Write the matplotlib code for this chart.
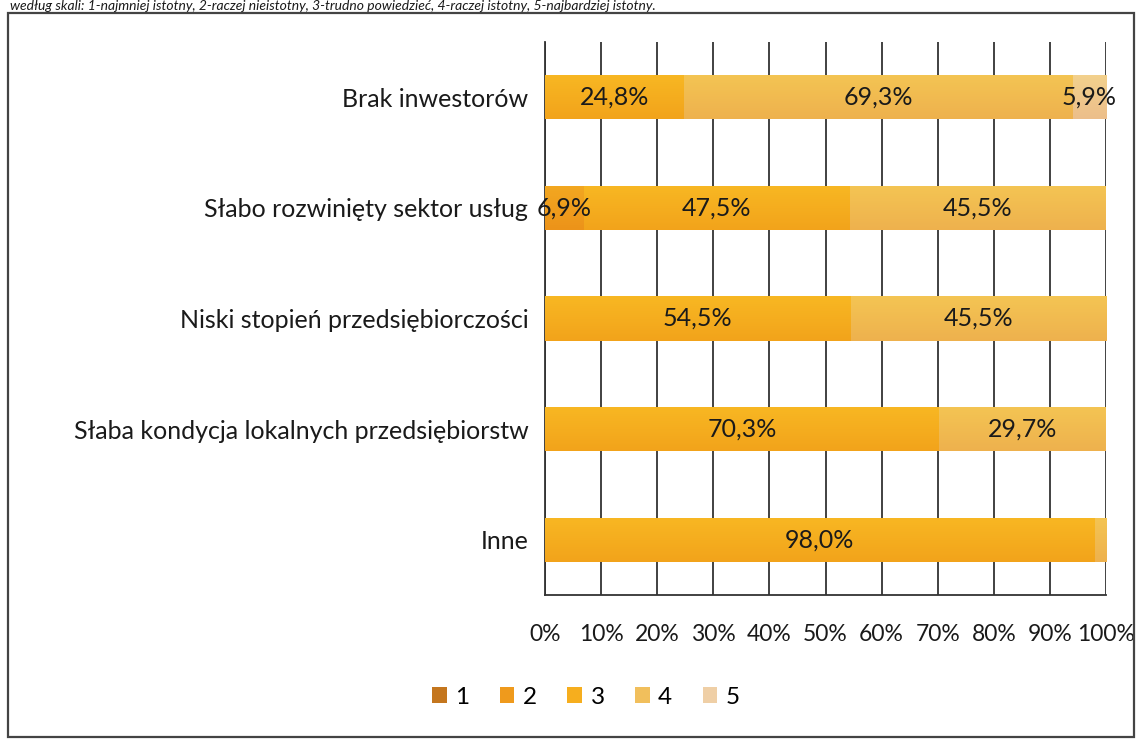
import matplotlib
matplotlib.use("Agg")
import matplotlib.pyplot as plt
from matplotlib.patches import Rectangle
from matplotlib.colors import to_rgb
import numpy as np

categories = ["Brak inwestorów", "Słabo rozwinięty sektor usług",
              "Niski stopień przedsiębiorczości",
              "Słaba kondycja lokalnych przedsiębiorstw", "Inne"]
series_names = ["1", "2", "3", "4", "5"]
# percent shares per rating (1..5) for each category
s1 = [0.0, 0.0, 0.0, 0.0, 0.0]
s2 = [0.0, 6.9, 0.0, 0.0, 0.0]
s3 = [24.8, 47.5, 54.5, 70.3, 98.0]
s4 = [69.3, 45.5, 45.5, 29.7, 2.0]
s5 = [5.9, 0.0, 0.0, 0.0, 0.0]
xticks = [0, 10, 20, 30, 40, 50, 60, 70, 80, 90, 100]
subtitle = ("według skali: 1-najmniej istotny, 2-raczej nieistotny, 3-trudno powiedzieć, "
            "4-raczej istotny, 5-najbardziej istotny.")

colors = ["#c4761e", "#ef9a1c", "#f6ae1e", "#f1bf5c", "#efcfa6"]
plt.rcParams['font.family'] = ['Lato', 'DejaVu Sans']
FS = 17.5

W, H = 1139, 739
fig = plt.figure(figsize=(W / 100, H / 100), dpi=100)
ax = fig.add_axes([545 / W, 1 - 595 / H, (1106 - 545) / W, (595 - 42) / H])


def gradient_fill(bar, base):
    r, g, b = to_rgb(base)
    top = np.array([r, g, b]) * 0.78 + np.array([1.0, 0.85, 0.2]) * 0.22
    bot = np.array([r, g, b]) * 0.82 + np.array([0.88, 0.45, 0.05]) * 0.18
    t = np.linspace(0, 1, 64)[:, None]
    img = (top[None, :] * (1 - t) + bot[None, :] * t)[:, None, :]
    x0, y0 = bar.get_x(), bar.get_y()
    w, h = bar.get_width(), bar.get_height()
    if w <= 0:
        return
    im = ax.imshow(np.clip(img, 0, 1), extent=(x0, x0 + w, y0 + h, y0),
                   aspect='auto', zorder=3.5, interpolation='bilinear')
    im.set_clip_path(bar)


series = [s1, s2, s3, s4, s5]
y = np.arange(len(categories))
left = np.zeros(len(categories))
for name, vals, c in zip(series_names, series, colors):
    vals = np.array(vals)
    bars = ax.barh(y, vals, left=left, height=0.4, color=c, label=name,
                   zorder=3, linewidth=0)
    for bar in bars:
        gradient_fill(bar, c)
    for yi, l, v in zip(y, left, vals):
        if v >= 5:
            ax.text(l + v / 2, yi, f"{v:.1f}%".replace('.', ','), ha='center',
                    va='center', fontsize=18, color='#1a1a1a', zorder=5)
    left = left + vals

ax.set_xlim(0, 100)
ax.set_ylim(len(categories) - 0.5, -0.5)
ax.set_xticks(xticks)
ax.set_xticklabels([f"{t}%" for t in xticks], fontsize=16.5, color='#1a1a1a')
ax.set_yticks(y)
ax.set_yticklabels(categories, fontsize=18, color='#1a1a1a')
ax.tick_params(axis='both', length=0)
ax.tick_params(axis='x', pad=21)
ax.tick_params(axis='y', pad=12)
ax.grid(axis='x', color='#333333', linewidth=1.3, zorder=0)
for s in ['top', 'right']:
    ax.spines[s].set_visible(False)
ax.spines['left'].set_color('#333333')
ax.spines['bottom'].set_color('#333333')
ax.spines['left'].set_linewidth(1.3)
ax.spines['bottom'].set_linewidth(1.3)

leg = fig.legend(loc='center', bbox_to_anchor=(586 / W, 1 - 697 / H), ncol=5,
                 frameon=False, fontsize=FS, handlelength=0.6, handleheight=0.6,
                 columnspacing=1.25, handletextpad=0.35)

fig.patches.append(Rectangle((8 / W, 2 / H), (1134 - 8) / W, (726 - 2) / H,
                             transform=fig.transFigure, fill=False,
                             edgecolor='#444444', linewidth=1.6))
fig.text(10 / W, 1 - 10 / H, subtitle, fontsize=10, style='italic',
         ha='left', va='baseline', color='#1a1a1a')

fig.savefig("out.png", dpi=100)
